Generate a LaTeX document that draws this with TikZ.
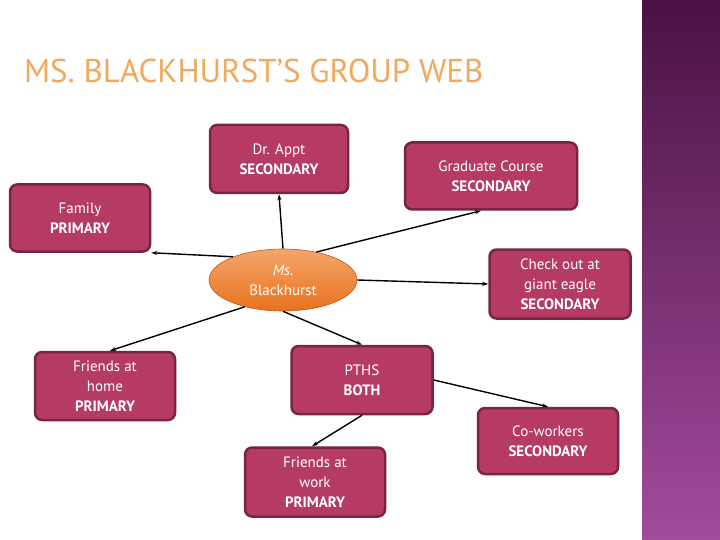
\documentclass[tikz,border=0pt]{standalone}
\usepackage{fontspec}
\setmainfont{PT Sans}
\usetikzlibrary{positioning}
\usetikzlibrary{arrows.meta}
\usetikzlibrary{shapes.geometric}
\definecolor{boxfill}{HTML}{B53B66}
\definecolor{boxline}{HTML}{7A2444}
\definecolor{ovaltop}{HTML}{F4A66A}
\definecolor{ovalbot}{HTML}{E8721E}
\definecolor{bandtop}{HTML}{4A1242}
\definecolor{bandbot}{HTML}{A24B9C}
\definecolor{titleorange}{HTML}{F2A95E}
\tikzstyle{box}=[draw=boxline, fill=boxfill, rounded corners=2.5mm, line width=2.5pt, text=white, align=center, font=\fontsize{15}{20}\selectfont]
\tikzstyle{hub}=[ellipse, draw=ovalbot!80!black, line width=0.6pt, top color=ovaltop, bottom color=ovalbot, text=white, align=center, font=\fontsize{15}{20}\selectfont, minimum width=148pt, minimum height=62pt]

\begin{document}
\begin{tikzpicture}[x=1pt, y=-1pt, -{Stealth[length=6pt,width=4pt]}, line width=1.4pt]
				
				\useasboundingbox (0,0) rectangle (720,540);
				\fill[white] (0,0) rectangle (720,540);
				\shade[top color=bandtop, bottom color=bandbot, draw=none] (642,0) rectangle (720,540);
				
				\node (title) [anchor=west, text=titleorange, font=\fontsize{33}{36}\selectfont] at (20,71) {MS. BLACKHURST’S GROUP WEB};
				
				\node (ms) [hub] at (283,280) {\textit{Ms.}\\Blackhurst};
				%
				\node (dr) [box, minimum width=138pt, minimum height=68pt] at (279,159) {Dr. Appt\\\textbf{SECONDARY}};
				\node (grad) [box, minimum width=172pt, minimum height=67pt] at (491,176) {Graduate Course\\\textbf{SECONDARY}};
				\node (fam) [box, minimum width=140pt, minimum height=67pt] at (80,218) {Family\\\textbf{PRIMARY}};
				\node (eagle) [box, minimum width=141pt, minimum height=69pt] at (560,284) {Check out at\\giant eagle\\\textbf{SECONDARY}};
				\node (home) [box, minimum width=140pt, minimum height=68pt] at (105,386) {Friends at\\home\\\textbf{PRIMARY}};
				\node (pths) [box, minimum width=141pt, minimum height=68pt] at (362,380) {PTHS\\\textbf{BOTH}};
				\node (work) [box, minimum width=140pt, minimum height=69pt] at (315,482) {Friends at\\work\\\textbf{PRIMARY}};
				\node (cow) [box, minimum width=140pt, minimum height=66pt] at (548,441) {Co-workers\\\textbf{SECONDARY}};
				
				\draw (ms.155) to (fam.south east);
				\draw (ms.north) to (dr.south);
				\draw (ms.40) to ([xshift=-10pt]grad.south);
				\draw (ms.east) to (eagle.west);
				\draw (ms.215) to ([xshift=5pt]home.north);
				\draw (ms.south) to (pths.north);
				\draw (pths.south) to ([xshift=-3pt]work.north);
				\draw (pths.east) to (cow.north);
				\end{tikzpicture}
\end{document}
